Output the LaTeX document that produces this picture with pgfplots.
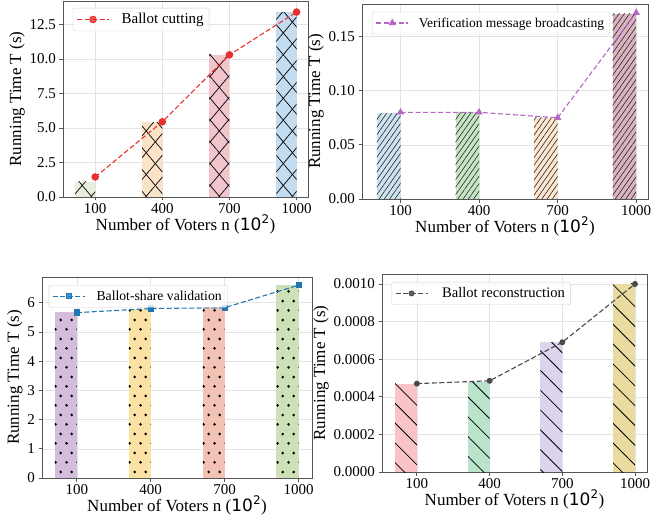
\documentclass[border=0pt]{standalone}
\usepackage{fontspec}
\setmainfont{Liberation Serif}
\newfontfamily\dejavu{DejaVu Sans}
\usepackage{pgfplots}
\pgfplotsset{compat=1.18}
\usetikzlibrary{patterns,patterns.meta}

% staggered dots, as matplotlib's '.' hatch
\pgfdeclarepatternformonly{sdots}{\pgfqpoint{0pt}{0pt}}{\pgfqpoint{10.6pt}{18.8pt}}{\pgfqpoint{10.6pt}{18.8pt}}{%
  \pgfpathcircle{\pgfqpoint{2.65pt}{4.7pt}}{1.5pt}%
  \pgfpathcircle{\pgfqpoint{7.95pt}{14.1pt}}{1.5pt}%
  \pgfusepath{fill}}

\definecolor{axgray}{HTML}{555555}
\definecolor{aa}{HTML}{E9EFDF}
\definecolor{ab}{HTML}{FBE3C8}
\definecolor{ac}{HTML}{F2C4CC}
\definecolor{ad}{HTML}{C3DCEF}
\definecolor{ba}{HTML}{CDE3EF}
\definecolor{bb}{HTML}{C5E5C5}
\definecolor{bc}{HTML}{FDE6CF}
\definecolor{bd}{HTML}{D9B3BD}
\definecolor{ca}{HTML}{D4BCDC}
\definecolor{cb}{HTML}{F9E2A4}
\definecolor{cc}{HTML}{F2C2B4}
\definecolor{cd}{HTML}{CDE0B8}
\definecolor{da}{HTML}{F9C3C8}
\definecolor{db}{HTML}{B9E3CB}
\definecolor{dc}{HTML}{DCD4EE}
\definecolor{dd}{HTML}{EADBA0}
\definecolor{lred}{HTML}{E8302F}
\definecolor{lmag}{HTML}{B565C4}
\definecolor{lblue}{HTML}{1F77B4}
\definecolor{lgray}{HTML}{4A4A4A}

\newcommand{\tfont}{\fontsize{15}{17}\selectfont}
\newcommand{\lfont}{\fontsize{17}{19}\selectfont}

\pgfplotsset{
  panel/.style={
    scale only axis,
    xtick={0,1,2,3}, xticklabels={100,400,700,1000},
    grid=major, grid style={gray!22, line width=0.5pt},
    axis line style={axgray, line width=0.8pt},
    every tick/.style={axgray, line width=0.8pt},
    tick align=outside, major tick length=3.5pt,
    xtick pos=bottom, ytick pos=left,
    tick label style={font=\tfont},
    xticklabel style={yshift=1pt},
    /pgf/number format/assume math mode=true,
    label style={font=\lfont},
    xlabel={Number of Voters n ({\dejavu 10\textsuperscript{2}})},
    ylabel={Running Time T (s)},
    xlabel style={yshift=5pt},
    ylabel style={yshift=-2pt},
    legend cell align=left,
    legend image code/.code={\draw[mark repeat=2,mark phase=2,##1] plot coordinates {(0pt,0pt) (16pt,0pt) (32pt,0pt)};},
    legend style={draw=gray!35, rounded corners=2pt, fill=white, fill opacity=0.8,
      text opacity=1, font=\tfont, inner sep=3.5pt},
  },
  bar/.style={ybar, bar width=0.3, bar shift=-0.15, draw=none, forget plot},
  ser/.style={line width=1.1pt, dash pattern=on 5pt off 2.5pt, mark options={solid}},
  xh/.style={
    postaction={pattern={Lines[angle=50,distance=14pt,line width=0.7pt]}, pattern color=black},
    postaction={pattern={Lines[angle=-50,distance=14pt,line width=0.7pt]}, pattern color=black}},
  fh/.style={postaction={pattern={Lines[angle=55,distance=4.3pt,line width=0.6pt]}, pattern color=black!85}},
  dh/.style={postaction={pattern=sdots, pattern color=black}},
  bh/.style={postaction={pattern={Lines[angle=-45,distance=14pt,line width=0.8pt]}, pattern color=black}},
}

\begin{document}
\begin{tikzpicture}[x=1pt,y=1pt]
\path[use as bounding box] (0,0) rectangle (670,523);

% top left: ballot cutting
\begin{axis}[panel, at={(63pt,326pt)}, anchor=south west, width=245pt, height=196pt,
  xmin=-0.48, xmax=3.17, ymin=0, ymax=14.2,
  ytick={0,2.5,5,7.5,10,12.5},
  yticklabel style={/pgf/number format/.cd, fixed, fixed zerofill, precision=1},
  legend style={at={(0.04,0.965)}, anchor=north west}]
\addplot[bar, fill=aa, xh] coordinates {(0,1.1)};
\addplot[bar, fill=ab, xh] coordinates {(1,5.4)};
\addplot[bar, fill=ac, xh] coordinates {(2,10.3)};
\addplot[bar, fill=ad, xh] coordinates {(3,13.4)};
\addplot[ser, lred, mark=*, mark size=3.2pt] coordinates {(0,1.45) (1,5.45) (2,10.3) (3,13.4)};
\addlegendentry{\hspace*{10pt}Ballot cutting}
\end{axis}

% top right: verification message broadcasting
\begin{axis}[panel, at={(362pt,324pt)}, anchor=south west, width=286pt, height=195pt,
  xmin=-0.49, xmax=3.15, ymin=0, ymax=0.18,
  ytick={0,0.05,0.1,0.15},
  yticklabel style={/pgf/number format/.cd, fixed, fixed zerofill, precision=2},
  legend style={at={(0.035,0.96)}, anchor=north west, font=\fontsize{13.5}{15}\selectfont}]
\addplot[bar, fill=ba, fh] coordinates {(0,0.079)};
\addplot[bar, fill=bb, fh] coordinates {(1,0.080)};
\addplot[bar, fill=bc, fh] coordinates {(2,0.075)};
\addplot[bar, fill=bd, fh] coordinates {(3,0.171)};
\addplot[ser, lmag, mark=triangle*, mark size=3.2pt] coordinates {(0,0.080) (1,0.080) (2,0.075) (3,0.172)};
\addlegendentry{\hspace*{8pt}Verification message broadcasting}
\end{axis}

% bottom left: ballot-share validation (values in 1e-5 s)
\begin{axis}[panel, at={(42pt,45pt)}, anchor=south west, width=270pt, height=201pt,
  xmin=-0.47, xmax=3.18, ymin=0, ymax=6.88,
  ytick={0,1,2,3,4,5,6},
  legend style={at={(0.025,0.96)}, anchor=north west, font=\fontsize{13.7}{15.5}\selectfont}]
\addplot[bar, fill=ca, dh] coordinates {(0,5.67)};
\addplot[bar, fill=cb, dh] coordinates {(1,5.80)};
\addplot[bar, fill=cc, dh] coordinates {(2,5.85)};
\addplot[bar, fill=cd, dh] coordinates {(3,6.62)};
\addplot[ser, lblue, mark=square*, mark size=2.6pt] coordinates {(0,5.66) (1,5.80) (2,5.83) (3,6.60)};
\addlegendentry{\hspace*{9pt}Ballot-share validation}
\node[anchor=south west, inner sep=1pt, font=\tfont] at (rel axis cs:0,1) {1e\textminus5};
\end{axis}

% bottom right: ballot reconstruction
\begin{axis}[panel, at={(382pt,51pt)}, anchor=south west, width=265pt, height=198pt,
  xmin=-0.48, xmax=3.165, ymin=0, ymax=0.001053,
  ytick={0,0.0002,0.0004,0.0006,0.0008,0.001},
  scaled y ticks=false,
  yticklabel style={/pgf/number format/.cd, fixed, fixed zerofill, precision=4},
  legend style={at={(0.035,0.96)}, anchor=north west, font=\fontsize{14.6}{16.5}\selectfont}]
\addplot[bar, fill=da, bh] coordinates {(0,0.00047)};
\addplot[bar, fill=db, bh] coordinates {(1,0.00048)};
\addplot[bar, fill=dc, bh] coordinates {(2,0.00069)};
\addplot[bar, fill=dd, bh] coordinates {(3,0.00100)};
\addplot[ser, lgray, mark=*, mark size=2.4pt] coordinates {(0,0.00047) (1,0.000485) (2,0.00069) (3,0.00100)};
\addlegendentry{\hspace*{12pt}Ballot reconstruction}
\end{axis}
\end{tikzpicture}
\end{document}
